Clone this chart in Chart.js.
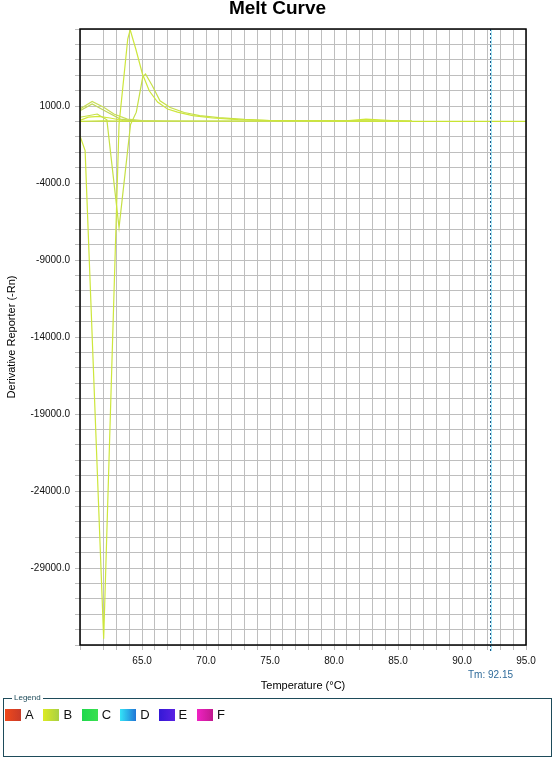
<!DOCTYPE html>
<html>
<head>
<meta charset="utf-8">
<script src="https://cdn.jsdelivr.net/npm/chart.js@4.4.1/dist/chart.umd.min.js"></script>
<style>
  html, body { margin: 0; padding: 0; background: #fff; }
  #wrap { position: relative; width: 555px; height: 760px; font-family: 'Liberation Sans', Arial, sans-serif; }
  #melt { position: absolute; left: 0; top: 0; }
  #legendBox { position: absolute; left: 3px; top: 698px; width: 549px; height: 59px; box-sizing: border-box; border: 1px solid #1e4b5a; }
  #legendBox .cap { position: absolute; left: 8px; top: -6px; font-size: 8px; line-height: 10px; padding: 0 2px; background: #fff; color: #1e4b5a; }
  #legendBox .sw { position: absolute; top: 10px; width: 16px; height: 12px; }
  #legendBox .lb { position: absolute; top: 8px; font-size: 13px; line-height: 16px; color: #111; }
</style>
</head>
<body>
<div id="wrap">
  <canvas id="melt" width="555" height="695"></canvas>
  <div id="legendBox"><span class="cap">Legend</span></div>
</div>
<script>
// chart text
var chartTitle = 'Melt Curve';
var xTitle = 'Temperature (°C)';
var yTitle = 'Derivative Reporter (-Rn)';
var tmValue = 92.15;

// axis ranges and labelled ticks
var xMin = 60.15, xMax = 95;
var yMin = -34000, yMax = 6000;
var xLabelled = [65, 70, 75, 80, 85, 90, 95];
var yLabelled = [1000, -4000, -9000, -14000, -19000, -24000, -29000];

// melt curves (well B), temperature / derivative pairs
var c1T = [60.15, 60.55, 62.0, 63.2, 63.88, 64.07, 64.51, 65.03, 65.56, 66.21, 66.99, 67.77, 68.95, 70.5, 72.5, 75.0, 80.0, 86.1];
var c1V = [-950, -1900, -33600, -200, 5350, 5950, 4700, 3080, 1990, 1260, 805, 600, 370, 220, 110, 60, 30, 0];

var c2T = [60.15, 61.5, 62.25, 63.2, 64.1, 64.55, 65.05, 65.27, 65.8, 66.4, 67.2, 68.3, 69.5, 71.0, 73.0, 75.0, 80.0, 86.1];
var c2V = [270, 480, 100, -6900, -200, 600, 2880, 3080, 2320, 1340, 900, 580, 380, 250, 130, 60, 30, 0];

var c3T = [60.15, 61.1, 62.0, 62.8, 63.85, 65.0, 67.0, 70.0, 75.0, 86.1];
var c3V = [800, 1290, 920, 480, 150, 50, 20, 10, 0, 0];

var c4T = [60.15, 61.1, 62.3, 63.3, 64.5, 66.0, 70.0, 86.1];
var c4V = [700, 1130, 590, 150, 30, 10, 0, 0];

var c5T = [60.15, 60.8, 61.6, 62.5, 63.5, 65.0, 80.5, 82.5, 84.5, 86.1];
var c5V = [60, 280, 330, 220, 60, 0, 0, 150, 60, 0];

var c6T = [60.15, 62.0, 64.5, 95.0];
var c6V = [0, 40, 0, 0];

var curveT = [c1T, c2T, c3T, c4T, c5T, c6T];
var curveV = [c1V, c2V, c3V, c4V, c5V, c6V];
var curveColors = ['rgb(205,230,60)', 'rgb(198,224,70)', 'rgb(200,222,85)', 'rgb(192,214,90)', 'rgb(208,232,55)', 'rgb(200,228,50)'];

// legend wells
var wellNames = ['A', 'B', 'C', 'D', 'E', 'F'];
var wellColors = [
  ['#f04a1c', '#c83a28'],
  ['#dcea22', '#a8d044'],
  ['#1ed84c', '#3ae050'],
  ['#34e4f8', '#2076d6'],
  ['#3418d6', '#5a22e2'],
  ['#f022c4', '#c01a8e']
];

var box = document.getElementById('legendBox');
wellNames.forEach(function (n, i) {
  var sw = document.createElement('div');
  sw.className = 'sw';
  sw.style.left = (1 + i * 38.4) + 'px';
  sw.style.background = 'linear-gradient(90deg,' + wellColors[i][0] + ',' + wellColors[i][1] + ')';
  box.appendChild(sw);
  var lb = document.createElement('span');
  lb.className = 'lb';
  lb.style.left = (21 + i * 38.4) + 'px';
  lb.textContent = n;
  box.appendChild(lb);
});

var datasets = curveT.map(function (ts, k) {
  return {
    data: ts.map(function (t, i) { return { x: t, y: curveV[k][i] }; }),
    borderColor: curveColors[k],
    borderWidth: 1.2,
    pointRadius: 0,
    tension: 0,
    fill: false
  };
});

var fontFam = "'Liberation Sans', Arial, sans-serif";

var framePlugin = {
  id: 'frame',
  afterDatasetsDraw: function (chart) {
    var c = chart.ctx, a = chart.chartArea;
    var x = Math.round(chart.scales.x.getPixelForValue(tmValue)) + 0.5;
    c.save();
    c.strokeStyle = 'rgba(110,215,240,0.6)';
    c.lineWidth = 1;
    c.beginPath(); c.moveTo(x + 1, a.top); c.lineTo(x + 1, a.bottom + 6); c.stroke();
    c.strokeStyle = '#1a5a8c';
    c.setLineDash([2, 2]);
    c.beginPath(); c.moveTo(x, a.top); c.lineTo(x, a.bottom + 6); c.stroke();
    c.setLineDash([]);
    c.strokeStyle = '#000';
    c.lineWidth = 1.5;
    c.strokeRect(a.left, a.top, a.right - a.left, a.bottom - a.top);
    c.fillStyle = '#2f6b9a';
    c.font = '10px ' + fontFam;
    c.textAlign = 'center';
    c.textBaseline = 'middle';
    c.fillText('Tm: ' + tmValue.toFixed(2), x, 675);
    // title centred on the whole canvas
    c.fillStyle = '#000';
    c.font = 'bold 19px ' + fontFam;
    c.fillText(chartTitle, chart.width / 2, 9);
    c.restore();
  }
};

new Chart(document.getElementById('melt'), {
  type: 'line',
  data: { datasets: datasets },
  plugins: [framePlugin],
  options: {
    responsive: false,
    animation: false,
    layout: { padding: { left: 0, right: 29, top: 29, bottom: 0 } },
    plugins: {
      legend: { display: false },
      tooltip: { enabled: false },
      title: { display: false }
    },
    scales: {
      x: {
        type: 'linear',
        min: xMin,
        max: xMax,
        afterFit: function (s) { s.height = 50; },
        grid: { color: '#bebebe', lineWidth: 1, tickLength: 5 },
        border: { display: false },
        ticks: {
          stepSize: 1,
          autoSkip: false,
          maxRotation: 0,
          padding: 5,
          color: '#111',
          font: { family: fontFam, size: 10 },
          callback: function (v) { return xLabelled.indexOf(v) >= 0 ? v.toFixed(1) : ''; }
        },
        title: {
          display: true,
          text: xTitle,
          color: '#000',
          font: { family: fontFam, size: 11 },
          padding: { top: 0, bottom: 2 }
        }
      },
      y: {
        type: 'linear',
        min: yMin,
        max: yMax,
        afterFit: function (s) { s.width = 80; },
        grid: { color: '#bebebe', lineWidth: 1, tickLength: 5 },
        border: { display: false },
        ticks: {
          stepSize: 1000,
          autoSkip: false,
          padding: 5,
          color: '#111',
          font: { family: fontFam, size: 10 },
          callback: function (v) { return yLabelled.indexOf(v) >= 0 ? v.toFixed(1) : ''; }
        },
        title: {
          display: true,
          text: yTitle,
          color: '#000',
          font: { family: fontFam, size: 11 },
          padding: { top: 5, bottom: 0 }
        }
      }
    }
  }
});
</script>
</body>
</html>
